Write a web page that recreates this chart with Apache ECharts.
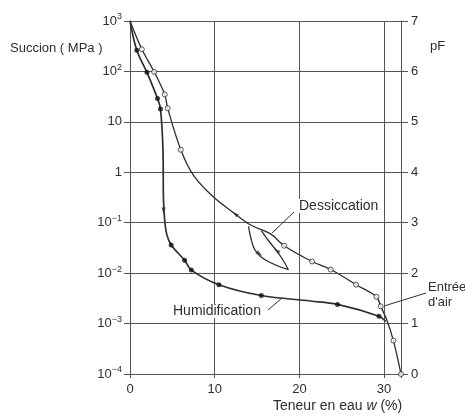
<!DOCTYPE html>
<html><head><meta charset="utf-8">
<script src="https://cdn.jsdelivr.net/npm/echarts@6/dist/echarts.min.js"></script>
<style>html,body{margin:0;padding:0;background:#fff}#c{width:465px;height:417px}</style>
</head><body><div id="c"></div>
<script>
// Dessiccation (drying) curve: traced line and measured points (open circles)
const dessCurveX = [0, 1.4, 2.85, 4.1, 4.45, 6.0, 7.5, 9.8, 12.4, 14.2, 16.6, 18.2, 21.5, 23.7, 26.7, 29.1, 29.6, 30.3, 31.1, 32];
const dessCurveY = [1000, 275, 98, 35, 18.6, 2.8, 0.87, 0.33, 0.15, 0.091, 0.060, 0.035, 0.017, 0.0118, 0.0059, 0.0034, 0.0022, 0.0012, 0.00046, 0.0001];
const dessPtsX = [1.4, 2.85, 4.1, 4.45, 6.0, 18.2, 21.5, 23.7, 26.7, 29.1, 29.6, 31.1, 32];
const dessPtsY = [275, 98, 35, 18.6, 2.8, 0.035, 0.017, 0.0118, 0.0059, 0.0034, 0.0022, 0.00046, 0.0001];

// Humidification (wetting) curve: traced line and measured points (filled)
const humCurveX = [0, 0.8, 2.0, 3.25, 3.6, 3.9, 3.95, 4.1, 4.35, 4.86, 6.45, 7.24, 10.5, 15.5, 21.3, 24.5, 29.4, 30.2];
const humCurveY = [1000, 263, 96, 29, 18, 2.5, 0.3, 0.11, 0.058, 0.036, 0.018, 0.0115, 0.0059, 0.0036, 0.0028, 0.0024, 0.0014, 0.0011];
const humPtsX = [0.8, 2.0, 3.25, 3.6, 4.86, 6.45, 7.24, 10.5, 15.5, 24.5, 29.4];
const humPtsY = [263, 96, 29, 18, 0.036, 0.018, 0.0115, 0.0059, 0.0036, 0.0024, 0.0014];

// Small hysteresis loop
const loopAX = [14.0, 14.25, 14.8, 16.1, 18.7];
const loopAY = [0.085, 0.051, 0.028, 0.0178, 0.0117];
const loopBX = [15.5, 16.5, 17.3, 18.1, 18.7];
const loopBY = [0.07, 0.041, 0.028, 0.0178, 0.0117];

// Direction arrows on curves
const arrowsX = [3.97, 12.4, 15.3, 17.3];
const arrowsY = [0.17, 0.15, 0.024, 0.028];
const arrowsRot = [180, 52, -125, 55];

// Axis ticks
const xTicks = [0, 10, 20, 30];
const pfTicks = [0, 1, 2, 3, 4, 5, 6, 7];

const zip = (xs, ys) => xs.map((x, i) => [x, ys[i]]);

const ink = '#2e2e2e';
const gridCol = '#555';
const font = 'Liberation Sans, Arial, sans-serif';

const chart = echarts.init(document.getElementById('c'));
chart.setOption({
  backgroundColor: '#ffffff',
  animation: false,
  grid: {left: 130, right: 64, top: 21, bottom: 43},
  xAxis: {
    type: 'value', min: 0, max: 32, interval: 10,
    axisLine: {lineStyle: {color: gridCol, width: 1}},
    axisTick: {show: true, length: 4, lineStyle: {color: gridCol}},
    axisLabel: {color: ink, fontFamily: font, fontSize: 13, margin: 9,
      formatter: v => xTicks.indexOf(v) >= 0 ? String(v) : ''},
    splitLine: {show: true, lineStyle: {color: gridCol, width: 1}}
  },
  yAxis: [{
    type: 'log', logBase: 10, min: 0.0001, max: 1000, splitNumber: 7,
    axisLine: {show: true, lineStyle: {color: gridCol, width: 1}},
    axisTick: {show: true, length: 6, lineStyle: {color: gridCol}},
    axisLabel: {color: ink, fontFamily: font, fontSize: 13, margin: 8,
      formatter: v => {
        const e = Math.round(Math.log10(v));
        if (e === 0) return '1';
        if (e === 1) return '10';
        return '10{s|' + String(e).replace('-', '−') + '}';
      },
      rich: {s: {fontSize: 9, fontFamily: font, color: ink, verticalAlign: 'top', padding: [0, 0, 8, 0]}}
    },
    splitLine: {show: true, lineStyle: {color: gridCol, width: 1}}
  }, {
    type: 'value', min: 0, max: 7, interval: 1, position: 'right',
    axisLine: {show: true, lineStyle: {color: gridCol, width: 1}},
    axisTick: {show: true, length: 7, lineStyle: {color: gridCol}},
    axisLabel: {color: ink, fontFamily: font, fontSize: 13, margin: 10,
      formatter: v => pfTicks.indexOf(v) >= 0 ? String(v) : ''},
    splitLine: {show: false}
  }],
  series: [
    {type: 'line', data: zip(dessCurveX, dessCurveY), smooth: 0.35, symbol: 'none',
      lineStyle: {color: ink, width: 1.3}, z: 3},
    {type: 'line', data: zip(humCurveX, humCurveY), smooth: 0.35, symbol: 'none',
      lineStyle: {color: ink, width: 1.7}, z: 3},
    {type: 'line', data: zip(loopAX, loopAY), smooth: 0.4, symbol: 'none',
      lineStyle: {color: ink, width: 1.3}, z: 3},
    {type: 'line', data: zip(loopBX, loopBY), smooth: 0.4, symbol: 'none',
      lineStyle: {color: ink, width: 1.3}, z: 3},
    {type: 'scatter', data: zip(dessPtsX, dessPtsY), symbol: 'circle', symbolSize: 5,
      itemStyle: {color: '#fff', borderColor: ink, borderWidth: 1}, z: 5},
    {type: 'scatter', data: zip(humPtsX, humPtsY), symbol: 'circle', symbolSize: 5,
      itemStyle: {color: '#111'}, z: 5},
    {type: 'scatter', data: arrowsX.map((x, i) => ({value: [x, arrowsY[i]], symbolRotate: arrowsRot[i]})),
      symbol: 'triangle', symbolSize: [4, 7], itemStyle: {color: ink}, z: 6}
  ],
  graphic: [
    {type: 'text', left: 10, top: 42, style: {text: 'Succion ( MPa )', font: '13px ' + font, fill: ink}},
    {type: 'text', left: 430, top: 40, style: {text: 'pF', font: '13px ' + font, fill: ink}},
    {type: 'text', left: 273, top: 399, style: {
      text: 'Teneur en eau {i|w} (%)', font: '14px ' + font, fill: ink,
      rich: {i: {fontStyle: 'italic', fontSize: 14, fontFamily: font, fill: ink}}}},
    {type: 'text', left: 299, top: 199, style: {text: 'Dessiccation', font: '14px ' + font, fill: ink, backgroundColor: '#fff'}, z: 10},
    {type: 'text', left: 173, top: 304, style: {text: 'Humidification', font: '14px ' + font, fill: ink, backgroundColor: '#fff'}, z: 10},
    {type: 'text', left: 428, top: 280, style: {text: 'Entrée\nd\'air', font: '13px ' + font, fill: ink, lineHeight: 15}, z: 10},
    {type: 'line', shape: {x1: 294, y1: 212, x2: 272, y2: 233}, style: {stroke: ink, lineWidth: 1}, z: 10},
    {type: 'line', shape: {x1: 268, y1: 310, x2: 282, y2: 298}, style: {stroke: ink, lineWidth: 1}, z: 10},
    {type: 'line', shape: {x1: 426, y1: 293, x2: 384, y2: 306}, style: {stroke: ink, lineWidth: 1}, z: 10}
  ]
});
</script></body></html>
